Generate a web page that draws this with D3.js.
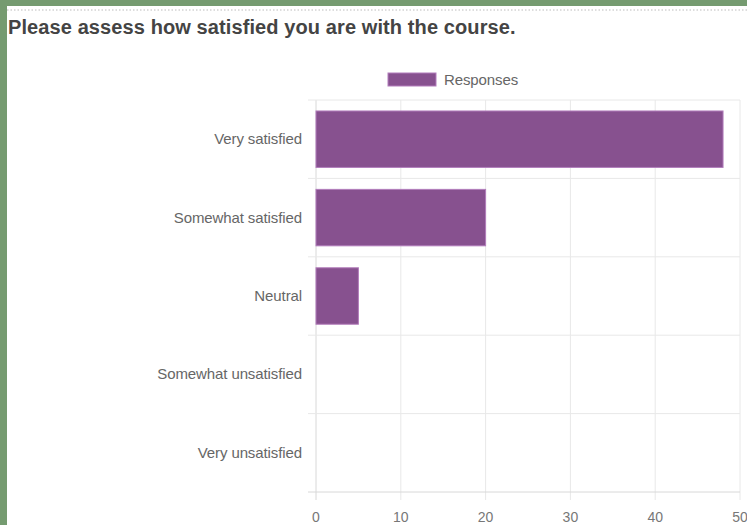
<!DOCTYPE html>
<html><head><meta charset="utf-8">
<script src="https://cdn.jsdelivr.net/npm/d3@7"></script>
<style>
html,body{margin:0;padding:0;background:#759b70;}
svg{display:block;}
</style></head>
<body>
<svg id="chart" width="747" height="525"></svg>
<script>
const title = "Please assess how satisfied you are with the course.";
const seriesName = "Responses";
const categories = ["Very satisfied","Somewhat satisfied","Neutral","Somewhat unsatisfied","Very unsatisfied"];
const values = [48, 20, 5, 0, 0];
const xTicks = [0, 10, 20, 30, 40, 50];

(function () {
const svg = d3.select("#chart");
const W = 747, H = 525;
svg.append("rect").attr("x", 7).attr("y", 6).attr("width", W - 7).attr("height", H - 6).attr("fill", "#fff");
svg.append("line").attr("x1", 7).attr("x2", W).attr("y1", 10).attr("y2", 10)
  .attr("stroke", "#bbb").attr("stroke-width", 1).attr("stroke-dasharray", "1.5,2");
svg.append("text").attr("x", 8).attr("y", 34).text(title)
  .attr("font-family", "Liberation Sans, Arial, sans-serif").attr("font-weight", "bold")
  .attr("font-size", 20).attr("letter-spacing", 0.1).attr("fill", "#444");

const mLeft = 316, mRight = 740, mTop = 100, mBottom = 492;
const x = d3.scaleLinear().domain([0, 50]).range([mLeft, mRight]);
const y = d3.scaleBand().domain(categories).range([mTop, mBottom]).paddingInner(0).paddingOuter(0);

const grid = "#e8e8e8";
const g = svg.append("g");
g.selectAll(".vg").data(xTicks).join("line")
  .attr("x1", d => x(d)).attr("x2", d => x(d)).attr("y1", mTop).attr("y2", mBottom + 8)
  .attr("stroke", d => d === 0 ? "#d8d8d8" : grid).attr("stroke-width", 1);
const edges = categories.map(c => y(c)).concat([mBottom]);
g.selectAll(".hg").data(edges).join("line")
  .attr("x1", mLeft - 8).attr("x2", mRight).attr("y1", d => d).attr("y2", d => d)
  .attr("stroke", (d, i) => i === edges.length - 1 ? "#d8d8d8" : grid).attr("stroke-width", 1);

const barH = y.bandwidth() * 0.72;
g.selectAll(".bar").data(categories.filter((c, i) => values[i] > 0)).join("rect")
  .attr("x", x(0)).attr("y", d => y(d) + (y.bandwidth() - barH) / 2)
  .attr("width", d => x(values[categories.indexOf(d)]) - x(0)).attr("height", barH)
  .attr("fill", "#87518f").attr("stroke", "#b27dbb").attr("stroke-width", 1);

const font = "Liberation Sans, Arial, Helvetica, sans-serif";
g.selectAll(".yl").data(categories).join("text")
  .attr("x", mLeft - 14).attr("y", d => y(d) + y.bandwidth() / 2 + 5)
  .attr("text-anchor", "end").attr("font-family", font).attr("font-size", 15)
  .attr("letter-spacing", -0.1).attr("fill", "#666").text(d => d);
g.selectAll(".xl").data(xTicks).join("text")
  .attr("x", d => x(d)).attr("y", 522).attr("text-anchor", "middle")
  .attr("font-family", font).attr("font-size", 14).attr("fill", "#777").text(d => d);

svg.append("rect").attr("x", 388).attr("y", 73).attr("width", 48).attr("height", 13)
  .attr("fill", "#87518f").attr("stroke", "#b27dbb").attr("stroke-width", 1);
svg.append("text").attr("x", 444).attr("y", 85).text(seriesName)
  .attr("font-family", font).attr("font-size", 15).attr("letter-spacing", -0.1).attr("fill", "#666");
})();
</script>
</body></html>
